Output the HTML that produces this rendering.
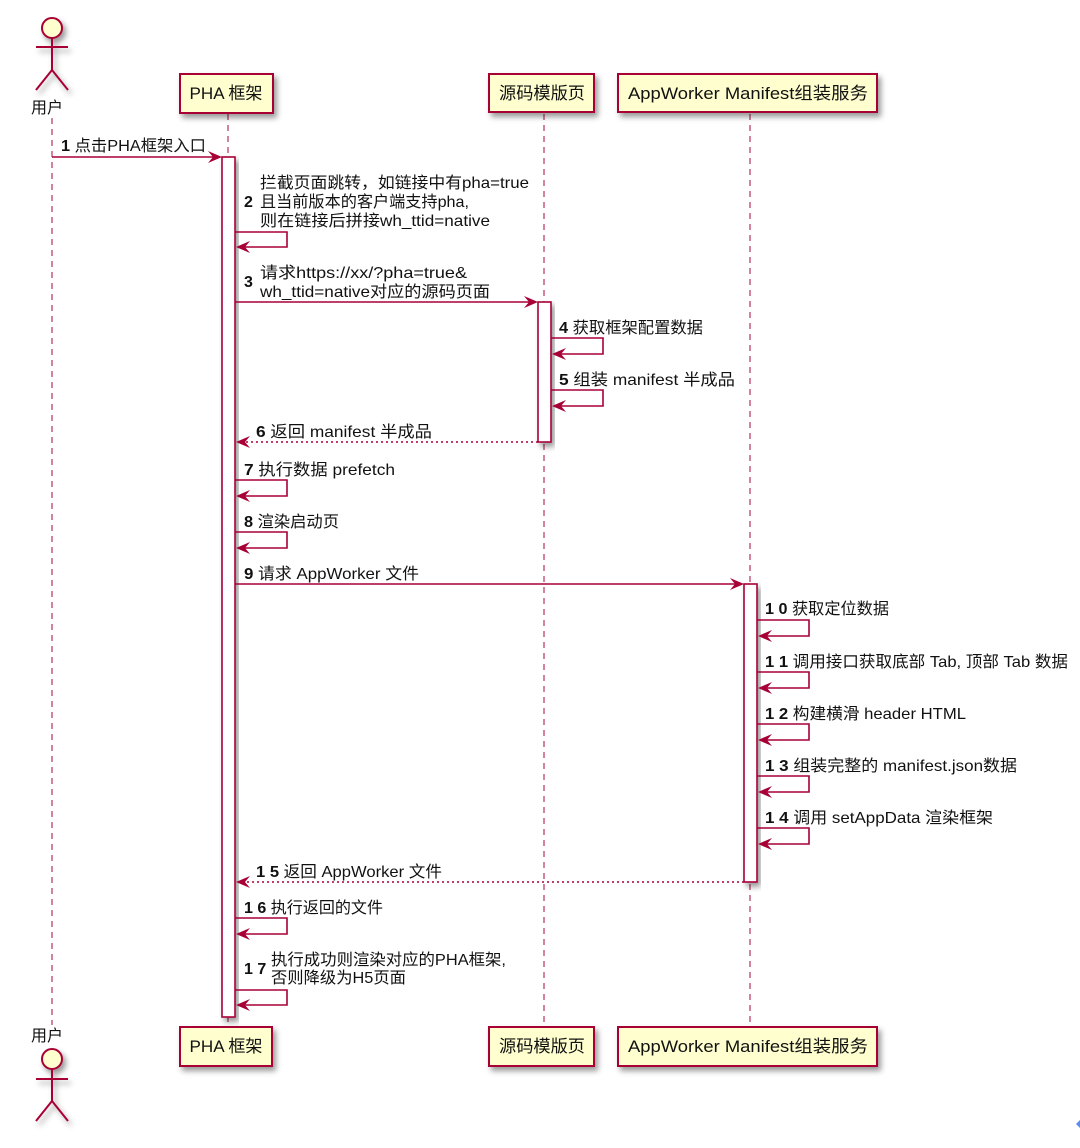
<!DOCTYPE html>
<html>
<head>
<meta charset="utf-8">
<style>
html,body{margin:0;padding:0;background:#fff;}
svg{display:block;}
text{font-family:"Liberation Sans","Noto Sans CJK SC",sans-serif;fill:#111;}
.m{font-size:16px;}
.b{font-weight:bold;}
.box{fill:#FEFECE;stroke:#A80036;stroke-width:2;}
.act{fill:#fff;stroke:#A80036;stroke-width:1.6;}
.ln{stroke:#A80036;stroke-width:1.6;fill:none;}
.dot{stroke:#A80036;stroke-width:1.6;fill:none;stroke-dasharray:2,3;}
.life{stroke:#C45A80;stroke-width:1.5;stroke-dasharray:6,5;}
.ah{fill:#A80036;}
.bl{font-size:17px;}
</style>
</head>
<body>
<svg width="1080" height="1148" viewBox="0 0 1080 1148" xmlns="http://www.w3.org/2000/svg">
<defs>
<filter id="sh" x="-20%" y="-20%" width="150%" height="160%">
<feDropShadow dx="3" dy="4" stdDeviation="3" flood-color="#000" flood-opacity="0.4"/>
</filter>
</defs>

<!-- lifelines -->
<line class="life" x1="52" y1="118" x2="52" y2="1025"/>
<line class="life" x1="228" y1="114" x2="228" y2="1026"/>
<line class="life" x1="544" y1="114" x2="544" y2="1026"/>
<line class="life" x1="750" y1="114" x2="750" y2="1026"/>

<!-- top actor -->
<g filter="url(#sh)">
<circle cx="52" cy="28" r="10" fill="#FEFECE" stroke="#A80036" stroke-width="2"/>
<path d="M52 38 V70 M36 47 H68 M52 70 L36 90 M52 70 L68 90" stroke="#A80036" stroke-width="2" fill="none"/>
</g>
<text x="47" y="113" font-size="16" text-anchor="middle">用户</text>

<!-- top boxes -->
<rect class="box" x="180" y="74" width="93" height="39" filter="url(#sh)"/>
<text class="bl" x="226" y="99" text-anchor="middle" textLength="73" lengthAdjust="spacingAndGlyphs">PHA 框架</text>
<rect class="box" x="489" y="74" width="105" height="38" filter="url(#sh)"/>
<text class="bl" x="542" y="99" text-anchor="middle" textLength="86" lengthAdjust="spacingAndGlyphs">源码模版页</text>
<rect class="box" x="618" y="74" width="259" height="38" filter="url(#sh)"/>
<text class="bl" x="748" y="99" text-anchor="middle" textLength="240" lengthAdjust="spacingAndGlyphs">AppWorker Manifest组装服务</text>

<!-- activation bars -->
<rect class="act" x="222" y="157" width="13" height="860" filter="url(#sh)"/>
<rect class="act" x="538" y="302" width="13" height="140" filter="url(#sh)"/>
<rect class="act" x="744" y="584" width="13" height="298" filter="url(#sh)"/>

<!-- msg 1 -->
<text class="m" x="61" y="151" textLength="145" lengthAdjust="spacingAndGlyphs"><tspan class="b">1</tspan>  点击PHA框架入口</text>
<line class="ln" x1="52" y1="157" x2="219" y2="157"/>
<polygon class="ah" points="222,157 208,151 213,157 208,163"/>

<!-- msg 2 -->
<text class="m b" x="244" y="207">2</text>
<text class="m" x="260" y="188" textLength="269" lengthAdjust="spacingAndGlyphs">拦截页面跳转，如链接中有pha=true</text>
<text class="m" x="260" y="207" textLength="209" lengthAdjust="spacingAndGlyphs">且当前版本的客户端支持pha,</text>
<text class="m" x="260" y="226" textLength="230" lengthAdjust="spacingAndGlyphs">则在链接后拼接wh_ttid=native</text>
<path class="ln" d="M235 232 H287 V247 H238"/>
<polygon class="ah" points="236,247 250,241 245,247 250,253"/>

<!-- msg 3 -->
<text class="m b" x="244" y="287">3</text>
<text class="m" x="260" y="278" textLength="207" lengthAdjust="spacingAndGlyphs">请求https://xx/?pha=true&amp;</text>
<text class="m" x="260" y="297" textLength="230" lengthAdjust="spacingAndGlyphs">wh_ttid=native对应的源码页面</text>
<line class="ln" x1="235" y1="302" x2="535" y2="302"/>
<polygon class="ah" points="538,302 524,296 529,302 524,308"/>

<!-- msg 4 -->
<text class="m" x="559" y="333" textLength="144" lengthAdjust="spacingAndGlyphs"><tspan class="b">4</tspan> 获取框架配置数据</text>
<path class="ln" d="M551 338 H603 V354 H554"/>
<polygon class="ah" points="552,354 566,348 561,354 566,360"/>

<!-- msg 5 -->
<text class="m" x="559" y="385" textLength="176" lengthAdjust="spacingAndGlyphs"><tspan class="b">5</tspan> 组装 manifest 半成品</text>
<path class="ln" d="M551 390 H603 V406 H554"/>
<polygon class="ah" points="552,406 566,400 561,406 566,412"/>

<!-- msg 6 -->
<text class="m" x="256" y="437" textLength="176" lengthAdjust="spacingAndGlyphs"><tspan class="b">6</tspan> 返回 manifest 半成品</text>
<line class="dot" x1="538" y1="442" x2="240" y2="442"/>
<polygon class="ah" points="236,442 250,436 245,442 250,448"/>

<!-- msg 7 -->
<text class="m" x="244" y="475" textLength="151" lengthAdjust="spacingAndGlyphs"><tspan class="b">7</tspan> 执行数据 prefetch</text>
<path class="ln" d="M235 480 H287 V496 H238"/>
<polygon class="ah" points="236,496 250,490 245,496 250,502"/>

<!-- msg 8 -->
<text class="m" x="244" y="527" textLength="95" lengthAdjust="spacingAndGlyphs"><tspan class="b">8</tspan> 渲染启动页</text>
<path class="ln" d="M235 532 H287 V548 H238"/>
<polygon class="ah" points="236,548 250,542 245,548 250,554"/>

<!-- msg 9 -->
<text class="m" x="244" y="579" textLength="175" lengthAdjust="spacingAndGlyphs"><tspan class="b">9</tspan> 请求 AppWorker 文件</text>
<line class="ln" x1="235" y1="584" x2="741" y2="584"/>
<polygon class="ah" points="744,584 730,578 735,584 730,590"/>

<!-- msg 10 -->
<text class="m" x="765" y="614" textLength="124" lengthAdjust="spacingAndGlyphs"><tspan class="b">1 0</tspan> 获取定位数据</text>
<path class="ln" d="M757 620 H809 V636 H760"/>
<polygon class="ah" points="758,636 772,630 767,636 772,642"/>

<!-- msg 11 -->
<text class="m" x="765" y="667" textLength="303" lengthAdjust="spacingAndGlyphs"><tspan class="b">1 1</tspan> 调用接口获取底部 Tab, 顶部 Tab 数据</text>
<path class="ln" d="M757 672 H809 V688 H760"/>
<polygon class="ah" points="758,688 772,682 767,688 772,694"/>

<!-- msg 12 -->
<text class="m" x="765" y="719" textLength="201" lengthAdjust="spacingAndGlyphs"><tspan class="b">1 2</tspan> 构建横滑 header HTML</text>
<path class="ln" d="M757 724 H809 V740 H760"/>
<polygon class="ah" points="758,740 772,734 767,740 772,746"/>

<!-- msg 13 -->
<text class="m" x="765" y="771" textLength="252" lengthAdjust="spacingAndGlyphs"><tspan class="b">1 3</tspan> 组装完整的 manifest.json数据</text>
<path class="ln" d="M757 776 H809 V792 H760"/>
<polygon class="ah" points="758,792 772,786 767,792 772,798"/>

<!-- msg 14 -->
<text class="m" x="765" y="823" textLength="228" lengthAdjust="spacingAndGlyphs"><tspan class="b">1 4</tspan> 调用 setAppData 渲染框架</text>
<path class="ln" d="M757 828 H809 V844 H760"/>
<polygon class="ah" points="758,844 772,838 767,844 772,850"/>

<!-- msg 15 -->
<text class="m" x="256" y="877" textLength="186" lengthAdjust="spacingAndGlyphs"><tspan class="b">1 5</tspan> 返回 AppWorker 文件</text>
<line class="dot" x1="744" y1="882" x2="240" y2="882"/>
<polygon class="ah" points="236,882 250,876 245,882 250,888"/>

<!-- msg 16 -->
<text class="m" x="244" y="913" textLength="139" lengthAdjust="spacingAndGlyphs"><tspan class="b">1 6</tspan> 执行返回的文件</text>
<path class="ln" d="M235 918 H287 V934 H238"/>
<polygon class="ah" points="236,934 250,928 245,934 250,940"/>

<!-- msg 17 -->
<text class="m b" x="244" y="974">1 7</text>
<text class="m" x="271" y="965" textLength="235" lengthAdjust="spacingAndGlyphs">执行成功则渲染对应的PHA框架,</text>
<text class="m" x="271" y="983" textLength="135" lengthAdjust="spacingAndGlyphs">否则降级为H5页面</text>
<path class="ln" d="M235 990 H287 V1005 H238"/>
<polygon class="ah" points="236,1005 250,999 245,1005 250,1011"/>

<!-- bottom boxes -->
<rect class="box" x="180" y="1027" width="92" height="39" filter="url(#sh)"/>
<text class="bl" x="226" y="1052" text-anchor="middle" textLength="73" lengthAdjust="spacingAndGlyphs">PHA 框架</text>
<rect class="box" x="489" y="1027" width="105" height="39" filter="url(#sh)"/>
<text class="bl" x="542" y="1052" text-anchor="middle" textLength="86" lengthAdjust="spacingAndGlyphs">源码模版页</text>
<rect class="box" x="618" y="1027" width="259" height="39" filter="url(#sh)"/>
<text class="bl" x="748" y="1052" text-anchor="middle" textLength="240" lengthAdjust="spacingAndGlyphs">AppWorker Manifest组装服务</text>

<!-- bottom actor -->
<text x="47" y="1041" font-size="16" text-anchor="middle">用户</text>
<g filter="url(#sh)">
<circle cx="52" cy="1059" r="10" fill="#FEFECE" stroke="#A80036" stroke-width="2"/>
<path d="M52 1069 V1101 M36 1079 H68 M52 1101 L36 1121 M52 1101 L68 1121" stroke="#A80036" stroke-width="2" fill="none"/>
</g>

<!-- small blue mark bottom right -->
<polygon points="1076,1124 1080,1120 1080,1128" fill="#5B8DEF"/>
</svg>
</body>
</html>
